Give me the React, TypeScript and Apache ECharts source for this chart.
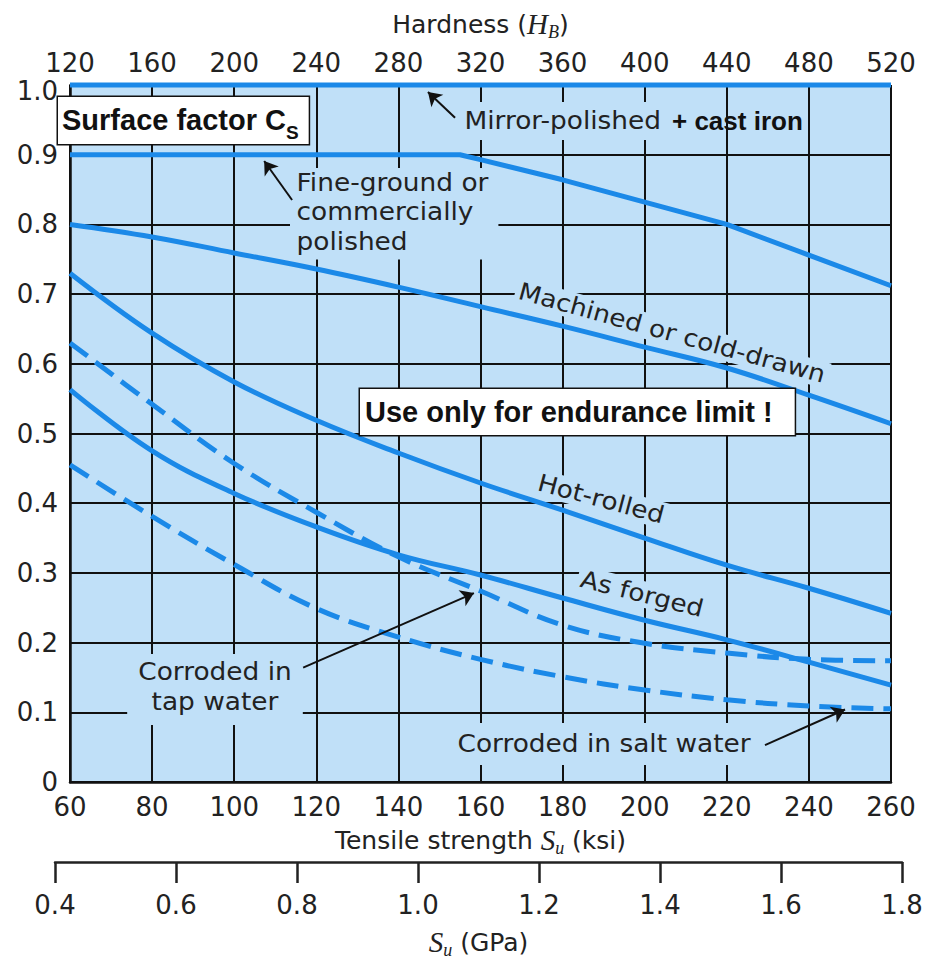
import React, { useEffect, useRef } from "react";
import * as echarts from "echarts";

// ---- data ----
const KSI = [60, 80, 100, 120, 140, 160, 180, 200, 220, 240, 260];
const MIRROR_POLISHED_X = [60, 260];
const MIRROR_POLISHED = [1.0, 1.0];
const FINE_GROUND_X = [60, 155, 160, 180, 200, 220, 240, 260];
const FINE_GROUND = [0.9, 0.9, 0.893, 0.864, 0.832, 0.8, 0.756, 0.712];
const MACHINED = [0.8, 0.782, 0.759, 0.736, 0.71, 0.682, 0.654, 0.624, 0.594, 0.555, 0.514];
const HOT_ROLLED = [0.73, 0.644, 0.574, 0.519, 0.472, 0.429, 0.39, 0.35, 0.311, 0.278, 0.242];
const AS_FORGED = [0.563, 0.475, 0.414, 0.366, 0.326, 0.297, 0.264, 0.232, 0.204, 0.172, 0.139];
const TAP_WATER = [0.63, 0.542, 0.457, 0.387, 0.323, 0.274, 0.225, 0.199, 0.185, 0.176, 0.174];
const SALT_WATER = [0.455, 0.381, 0.312, 0.249, 0.208, 0.176, 0.151, 0.132, 0.118, 0.109, 0.105];

// axis ranges [min, max, interval]
const KSI_AXIS = [60, 260, 20];
const CS_AXIS = [0, 1, 0.1];
const HARDNESS_AXIS = [120, 520, 40];
const GPA_AXIS = [0.4, 1.8, 0.2];

// annotation arrows [tailKsi, tailCs, tipKsi, tipCs]
const ARROWS = [
  [153.8, 0.953, 147.2, 0.99],
  [114.1, 0.835, 107.3, 0.891],
  [116.8, 0.164, 158.4, 0.271],
  [229.3, 0.053, 248.8, 0.104],
];

const BLUE = "#1b89e8";
const BG = "#c0e0f8";
const INK = "#222222";
const SANS = "DejaVu Sans";
const BOLD = "Liberation Sans";
const SERIF = "Liberation Serif";

const pts = (xs: number[], ys: number[]) => xs.map((x, i) => [x, ys[i]]);

function curve(name: string, xs: number[], ys: number[], dashed: boolean, smooth: boolean | number, extra: any = {}) {
  return {
    type: "line",
    name,
    xAxisIndex: 0,
    yAxisIndex: 0,
    data: pts(xs, ys),
    showSymbol: false,
    symbol: "none",
    smooth,
    silent: true,
    z: 3,
    lineStyle: { color: BLUE, width: 5, type: dashed ? [22, 10] : "solid", cap: "butt" },
    ...extra,
  };
}

const nameRich = {
  r: { fontFamily: SANS, fontSize: 25, color: INK, lineHeight: 34 },
  i: { fontFamily: SERIF, fontStyle: "italic", fontSize: 29, color: INK, lineHeight: 34 },
  s: { fontFamily: SERIF, fontStyle: "italic", fontSize: 18, color: INK, lineHeight: 18, verticalAlign: "bottom" },
};

const tickLabel = { fontFamily: SANS, fontSize: 26, color: INK };

function note(text: string, x: number, y: number, extra: any = {}, style: any = {}) {
  return {
    type: "text",
    x,
    y,
    scaleX: 1.1,
    z: 1,
    silent: true,
    ...extra,
    style: {
      text,
      fontFamily: SANS,
      fontSize: 24,
      fill: INK,
      backgroundColor: BG,
      align: "center",
      verticalAlign: "middle",
      padding: [1, 3],
      ...style,
    },
  };
}

export default function App() {
  const ref = useRef<HTMLDivElement>(null);
  useEffect(() => {
    if (!ref.current) return;
    const chart = echarts.init(ref.current, null, { renderer: "svg" });
    const option: any = {
      animation: false,
      backgroundColor: "#ffffff",
      grid: [
        { left: 70, right: 37, top: 85, height: 697, show: true, backgroundColor: BG, borderWidth: 0 },
        { left: 55, right: 26, top: 861, height: 1, show: false },
      ],
      xAxis: [
        {
          type: "value",
          gridIndex: 0,
          position: "bottom",
          min: KSI_AXIS[0],
          max: KSI_AXIS[1],
          interval: KSI_AXIS[2],
          axisLine: { show: true, lineStyle: { color: "#111", width: 2.5 } },
          axisTick: { show: false },
          axisLabel: { ...tickLabel, margin: 12 },
          splitLine: { show: true, lineStyle: { color: "#111", width: 2 } },
          name: "{r|Tensile strength }{i|S}{s|u}{r| (ksi)}",
          nameLocation: "middle",
          nameGap: 41,
          nameTextStyle: { rich: nameRich },
        },
        {
          type: "value",
          gridIndex: 0,
          position: "top",
          min: HARDNESS_AXIS[0],
          max: HARDNESS_AXIS[1],
          interval: HARDNESS_AXIS[2],
          axisLine: { show: false },
          axisTick: { show: false },
          splitLine: { show: false },
          axisLabel: { ...tickLabel, margin: 9 },
          name: "{r|Hardness (}{i|H}{s|B}{r|)}",
          nameLocation: "middle",
          nameGap: 44,
          nameTextStyle: { rich: nameRich },
        },
        {
          type: "value",
          gridIndex: 1,
          position: "bottom",
          min: GPA_AXIS[0],
          max: GPA_AXIS[1],
          interval: GPA_AXIS[2],
          axisLine: { show: true, lineStyle: { color: "#222", width: 2.5 } },
          axisTick: { show: true, length: 21, lineStyle: { color: "#222", width: 2.5 } },
          splitLine: { show: false },
          axisLabel: { ...tickLabel, margin: 30, formatter: (v: number) => v.toFixed(1) },
          name: "{i|S}{s|u}{r| (GPa)}",
          nameLocation: "middle",
          nameGap: 63,
          nameTextStyle: { rich: nameRich },
        },
      ],
      yAxis: [
        {
          type: "value",
          gridIndex: 0,
          min: CS_AXIS[0],
          max: CS_AXIS[1],
          interval: CS_AXIS[2],
          axisLine: { show: true, lineStyle: { color: "#111", width: 2.5 } },
          axisTick: { show: false },
          axisLabel: {
            ...tickLabel,
            margin: 12,
            formatter: (v: number) => (v === 0 ? "0" : v >= 1 ? "{t|1.0}" : v.toFixed(1)),
            rich: { t: { fontFamily: SANS, fontSize: 26, color: INK, padding: [12, 0, 0, 0] } },
          },
          splitLine: { show: true, lineStyle: { color: "#111", width: 2 } },
        },
        { type: "value", gridIndex: 1, show: false, min: 0, max: 1 },
      ],
      series: [
        curve("Mirror-polished", MIRROR_POLISHED_X, MIRROR_POLISHED, false, false, {
          clip: false,
          markLine: {
            silent: true,
            symbol: ["none", "arrow"],
            symbolSize: 13,
            label: { show: false },
            lineStyle: { color: "#111", width: 2, type: "solid" },
            emphasis: { disabled: true },
            data: ARROWS.map((a) => [{ coord: [a[0], a[1]] }, { coord: [a[2], a[3]] }]),
          },
        }),
        curve("Fine-ground", FINE_GROUND_X, FINE_GROUND, false, false),
        curve("Machined", KSI, MACHINED, false, 0.4),
        curve("Hot-rolled", KSI, HOT_ROLLED, false, 0.4),
        curve("As forged", KSI, AS_FORGED, false, 0.4),
        curve("Tap water", KSI, TAP_WATER, true, 0.4),
        curve("Salt water", KSI, SALT_WATER, true, 0.4),
      ],
      graphic: [
        note("Mirror-polished", 460, 121, {}, { align: "left", padding: [7, 6, 7, 4] }),
        {
          type: "text",
          x: 672,
          y: 121,
          z: 1,
          silent: true,
          style: { text: "+ cast iron", fontFamily: BOLD, fontWeight: "bold", fontSize: 26, fill: "#111", verticalAlign: "middle", align: "left" },
        },
        note("Fine-ground or\ncommercially\npolished", 290, 168, {}, { align: "left", verticalAlign: "top", lineHeight: 29.5, padding: [0, 9, 3, 6] }),
        note("Machined or cold-drawn", 672, 333, { rotation: -0.27 }),
        note("Hot-rolled", 601, 499, { rotation: -0.26 }),
        note("As forged", 642, 594, { rotation: -0.245 }),
        note("Corroded in\ntap water", 215, 654, {}, { verticalAlign: "top", lineHeight: 30, padding: [3, 10, 8, 10] }),
        note("Corroded in salt water", 452, 744, {}, { align: "left", padding: [9, 6, 9, 5] }),
        {
          type: "text",
          x: 58,
          y: 97,
          z: 10,
          silent: true,
          style: {
            text: "{a|Surface factor C}{b|S}",
            rich: {
              a: { fontFamily: BOLD, fontWeight: "bold", fontSize: 29, lineHeight: 44, fill: "#111" },
              b: { fontFamily: BOLD, fontWeight: "bold", fontSize: 19, lineHeight: 19, verticalAlign: "bottom", fill: "#111" },
            },
            fill: "#111",
            backgroundColor: "#ffffff",
            borderColor: "#111",
            borderWidth: 1.5,
            padding: [1, 10, 2, 4],
            align: "left",
            verticalAlign: "top",
          },
        },
        {
          type: "text",
          x: 360,
          y: 389,
          z: 10,
          silent: true,
          style: {
            text: "Use only for endurance limit !",
            fontFamily: BOLD,
            fontWeight: "bold",
            fontSize: 29,
            lineHeight: 40,
            fill: "#111",
            backgroundColor: "#ffffff",
            borderColor: "#111",
            borderWidth: 1.5,
            padding: [3, 22, 3, 5],
            align: "left",
            verticalAlign: "top",
          },
        },
      ],
    };
    chart.setOption(option);
    return () => chart.dispose();
  }, []);
  return (
    <div
      ref={ref}
      style={{ position: "absolute", left: 0, top: 0, width: 928, height: 962, background: "#fff" }}
    />
  );
}
